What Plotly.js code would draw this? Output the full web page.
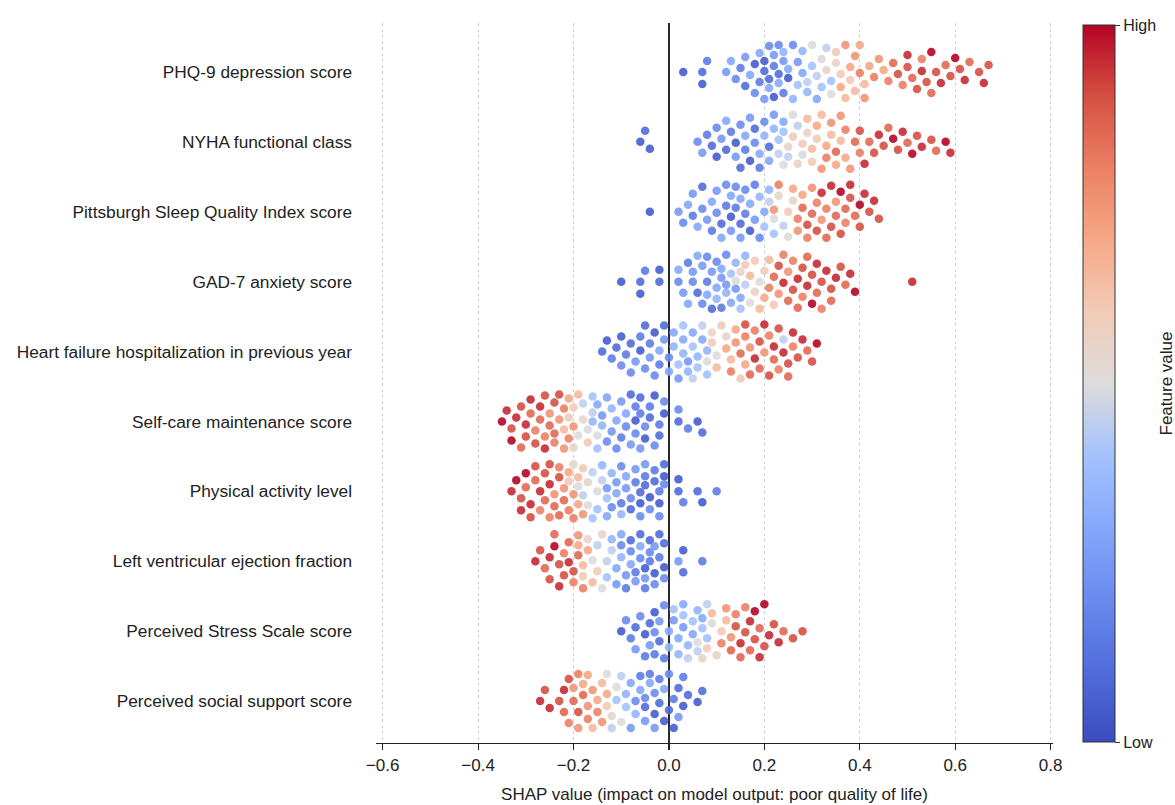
<!DOCTYPE html>
<html>
<head>
<meta charset="utf-8">
<script src="https://cdn.plot.ly/plotly-3.0.1.min.js"></script>
<style>
html,body{margin:0;padding:0;background:#fff;}
#chart{width:1175px;height:805px;}
</style>
</head>
<body>
<div id="chart"></div>
<script>
// Feature names (top to bottom)
const features = [
  "PHQ-9 depression score",
  "NYHA functional class",
  "Pittsburgh Sleep Quality Index score",
  "GAD-7 anxiety score",
  "Heart failure hospitalization in previous year",
  "Self-care maintenance score",
  "Physical activity level",
  "Left ventricular ejection fraction",
  "Perceived Stress Scale score",
  "Perceived social support score"
];

// SHAP values and normalized feature values (0 = low, 1 = high)
const shapPHQ9 = [
  0.03,0.07,0.07,0.08,
  0.12,0.13,0.14,0.15,0.16,0.16,0.17,0.18,0.18,0.19,0.19,0.20,0.20,0.20,0.21,0.21,0.21,0.22,0.22,0.22,0.23,0.23,0.23,0.24,0.24,0.24,0.25,0.25,0.26,0.26,0.27,0.27,0.28,0.28,
  0.29,0.29,0.30,0.30,0.31,0.31,0.32,0.32,0.33,0.33,0.34,0.34,0.35,0.35,
  0.36,0.36,0.37,0.37,0.38,0.38,0.39,0.39,0.40,0.40,0.41,0.41,0.42,0.43,0.44,0.45,0.46,
  0.47,0.48,0.49,0.50,0.50,0.51,0.52,0.53,0.53,0.54,0.55,0.55,0.56,0.57,0.58,0.59,0.60,0.61,0.62,0.63,0.65,0.66,0.67
];
const valPHQ9 = [
  0.05,0.10,0.05,0.15,
  0.25,0.30,0.20,0.15,0.10,0.25,0.30,0.05,0.20,0.15,0.30,0.10,0.25,0.05,0.20,0.30,0.10,0.15,0.25,0.05,0.30,0.20,0.10,0.25,0.15,0.35,0.05,0.30,0.20,0.35,0.25,0.40,0.30,0.35,
  0.35,0.45,0.40,0.50,0.30,0.45,0.50,0.40,0.45,0.55,0.50,0.40,0.55,0.60,
  0.60,0.70,0.65,0.75,0.70,0.60,0.75,0.65,0.70,0.80,0.65,0.75,0.70,0.80,0.75,0.70,0.80,
  0.85,0.90,0.80,0.90,0.95,0.85,0.90,0.95,0.80,0.90,1.00,0.85,0.90,0.95,0.85,0.90,1.00,0.90,0.95,0.85,0.90,0.95,0.90
];

const shapNYHA = [
  -0.06,-0.05,-0.04,
  0.06,0.07,0.08,0.09,0.10,0.10,0.11,0.12,0.12,0.13,0.14,0.14,0.15,0.15,0.16,0.16,0.17,0.17,0.18,0.18,0.19,0.19,0.20,0.20,0.21,0.21,0.22,0.22,0.23,0.24,
  0.23,0.24,0.24,0.25,0.25,0.26,0.26,0.27,0.27,0.28,0.28,0.29,0.29,0.30,
  0.30,0.31,0.31,0.32,0.32,0.33,0.33,0.34,0.34,0.35,0.35,0.36,0.36,0.37,0.37,0.38,0.39,0.40,
  0.40,0.41,0.42,0.43,0.44,0.45,0.46,0.47,0.48,0.49,0.50,0.51,0.52,0.53,0.55,0.56,0.58,0.59
];
const valNYHA = [
  0.05,0.10,0.05,
  0.20,0.25,0.15,0.10,0.20,0.05,0.25,0.10,0.30,0.15,0.05,0.25,0.20,0.10,0.30,0.15,0.05,0.25,0.20,0.10,0.30,0.15,0.35,0.20,0.10,0.30,0.35,0.25,0.40,0.30,
  0.45,0.50,0.40,0.55,0.45,0.50,0.60,0.45,0.55,0.60,0.50,0.55,0.65,0.60,
  0.65,0.70,0.60,0.75,0.65,0.70,0.80,0.65,0.75,0.70,0.85,0.75,0.65,0.80,0.70,0.75,0.85,0.80,
  0.90,0.95,0.85,0.90,0.95,0.90,0.85,1.00,0.90,0.95,0.85,1.00,0.90,0.95,0.90,0.85,1.00,0.95
];

const shapPSQI = [
  -0.04,
  0.02,0.03,0.04,0.05,0.05,0.06,0.07,0.07,0.08,0.09,0.09,0.10,0.10,0.11,0.11,0.12,0.12,0.13,0.13,0.13,0.14,0.14,0.15,0.15,0.15,0.16,0.16,0.17,0.17,0.18,0.18,0.19,0.19,0.20,0.20,0.21,
  0.21,0.22,0.22,0.23,0.24,0.25,0.25,0.26,
  0.22,0.23,0.26,0.27,0.27,0.28,0.28,0.29,0.29,0.30,0.30,0.31,0.31,0.32,0.32,0.33,0.33,0.34,0.34,0.35,0.35,0.36,0.36,0.37,0.37,0.38,0.38,0.39,0.40,0.40,0.41,0.42,0.43,0.44
];
const valPSQI = [
  0.05,
  0.25,0.20,0.30,0.15,0.25,0.30,0.20,0.10,0.25,0.30,0.15,0.20,0.25,0.10,0.30,0.15,0.20,0.05,0.25,0.30,0.15,0.20,0.10,0.25,0.30,0.15,0.20,0.05,0.30,0.25,0.15,0.35,0.20,0.30,0.40,0.35,
  0.45,0.50,0.40,0.55,0.45,0.60,0.50,0.55,
  0.75,0.80,0.70,0.80,0.75,0.85,0.70,0.80,0.90,0.75,0.85,0.80,0.90,0.75,0.95,0.85,0.80,0.90,0.95,0.85,0.75,0.90,1.00,0.85,0.80,0.95,0.90,0.85,1.00,0.90,0.95,0.90,0.95,0.90
];

const shapGAD7 = [
  -0.10,-0.06,-0.06,-0.05,-0.02,-0.02,
  0.02,0.02,0.03,0.04,0.04,0.05,0.05,0.06,0.06,0.07,0.07,0.08,0.08,0.08,0.09,0.09,0.10,0.10,0.10,0.11,0.11,0.11,0.12,0.12,0.12,0.13,0.13,0.14,0.14,0.15,0.15,0.16,
  0.14,0.15,0.16,0.16,0.17,0.17,0.18,0.18,0.19,0.19,0.20,0.20,0.21,0.22,
  0.21,0.22,0.23,0.23,0.24,0.24,0.25,0.25,0.26,0.26,0.27,0.27,0.28,0.28,0.29,0.29,0.30,0.30,0.31,0.31,0.32,0.32,0.33,0.34,0.34,0.35,0.36,0.37,0.38,0.39,
  0.51
];
const valGAD7 = [
  0.05,0.10,0.05,0.15,0.10,0.05,
  0.20,0.30,0.25,0.15,0.30,0.20,0.25,0.10,0.30,0.20,0.25,0.15,0.30,0.20,0.25,0.10,0.30,0.20,0.35,0.25,0.15,0.30,0.20,0.35,0.25,0.30,0.40,0.35,0.25,0.40,0.30,0.35,
  0.50,0.55,0.45,0.60,0.50,0.65,0.55,0.60,0.65,0.50,0.60,0.70,0.65,0.60,
  0.80,0.85,0.75,0.90,0.80,0.95,0.85,0.75,0.90,0.80,0.95,0.85,0.90,0.80,0.95,0.85,0.90,1.00,0.85,0.95,0.90,0.80,0.95,0.90,0.85,0.95,0.90,0.85,0.95,1.00,
  0.95
];

const shapHFHosp = [
  -0.14,-0.13,-0.12,-0.11,-0.10,-0.10,-0.09,-0.08,-0.08,-0.07,-0.06,-0.06,-0.05,-0.05,-0.04,-0.04,-0.03,-0.03,-0.02,-0.02,-0.01,-0.01,0.00,0.00,
  0.01,0.01,0.02,0.02,0.03,0.03,0.03,0.04,0.04,0.05,0.05,0.05,0.06,0.06,0.07,0.07,0.08,0.08,
  0.08,0.09,0.09,0.10,0.10,0.11,0.12,0.12,0.13,0.14,0.15,0.16,
  0.13,0.14,0.15,0.16,0.16,0.17,0.17,0.18,0.18,0.19,0.19,0.20,0.20,0.21,0.21,0.22,0.22,0.23,0.23,0.24,0.24,0.25,0.25,0.26,0.26,0.27,0.28,0.29,0.30,0.31
];
const valHFHosp = [
  0.10,0.05,0.15,0.10,0.20,0.05,0.15,0.10,0.20,0.25,0.05,0.15,0.20,0.10,0.25,0.15,0.05,0.20,0.30,0.15,0.25,0.10,0.20,0.30,
  0.35,0.30,0.40,0.25,0.35,0.30,0.40,0.35,0.25,0.40,0.30,0.45,0.35,0.40,0.30,0.45,0.40,0.35,
  0.50,0.55,0.60,0.65,0.50,0.60,0.70,0.55,0.65,0.70,0.60,0.70,
  0.80,0.75,0.85,0.80,0.90,0.75,0.85,0.95,0.80,0.90,0.85,0.75,0.95,0.90,0.80,0.85,0.95,0.90,0.80,0.45,0.95,0.85,0.90,0.95,0.80,0.90,0.95,0.85,0.90,1.00
];

const shapSelfCare = [
  -0.35,-0.34,-0.33,-0.33,-0.32,-0.31,-0.31,-0.30,-0.30,-0.29,-0.29,-0.28,-0.28,-0.27,-0.27,-0.26,-0.26,-0.26,-0.25,-0.25,-0.24,-0.24,-0.24,-0.23,-0.23,-0.22,-0.22,-0.21,-0.21,-0.20,
  -0.22,-0.21,-0.20,-0.20,-0.19,-0.19,-0.18,-0.18,-0.17,-0.17,-0.16,-0.16,-0.15,-0.15,
  -0.16,-0.15,-0.14,-0.14,-0.13,-0.13,-0.12,-0.12,-0.11,-0.11,-0.10,-0.10,-0.09,-0.09,-0.08,-0.08,-0.07,-0.07,-0.07,-0.06,-0.06,-0.06,-0.05,-0.05,-0.04,-0.04,-0.03,-0.03,-0.02,-0.02,-0.01,-0.01,
  0.02,0.02,0.04,0.06,0.07
];
const valSelfCare = [
  1.00,0.95,0.90,1.00,0.95,0.90,0.85,0.95,0.90,0.85,0.95,0.90,0.80,0.95,0.85,0.90,0.80,0.95,0.85,0.75,0.90,0.80,0.85,0.75,0.90,0.80,0.75,0.70,0.80,0.75,
  0.65,0.60,0.60,0.55,0.65,0.50,0.55,0.45,0.60,0.50,0.45,0.40,0.50,0.40,
  0.35,0.30,0.35,0.25,0.30,0.20,0.35,0.25,0.30,0.20,0.25,0.15,0.30,0.20,0.25,0.10,0.20,0.15,0.05,0.25,0.10,0.15,0.20,0.05,0.15,0.10,0.20,0.05,0.15,0.10,0.05,0.20,
  0.10,0.20,0.15,0.05,0.10
];

const shapActivity = [
  -0.33,-0.32,-0.31,-0.31,-0.30,-0.30,-0.29,-0.29,-0.28,-0.28,-0.27,-0.27,-0.26,-0.26,-0.25,-0.25,-0.25,-0.24,-0.24,-0.23,-0.23,-0.23,-0.22,-0.22,-0.21,-0.21,-0.20,-0.20,-0.19,-0.18,
  -0.21,-0.20,-0.19,-0.19,-0.18,-0.18,-0.17,-0.17,-0.16,-0.16,-0.15,-0.15,-0.14,-0.13,
  -0.14,-0.13,-0.13,-0.12,-0.12,-0.11,-0.11,-0.10,-0.10,-0.10,-0.09,-0.09,-0.08,-0.08,-0.07,-0.07,-0.06,-0.06,-0.06,-0.05,-0.05,-0.05,-0.04,-0.04,-0.03,-0.03,-0.02,-0.02,-0.02,-0.01,-0.01,-0.01,
  0.02,0.02,0.03,0.06,0.07,0.10
];
const valActivity = [
  0.95,1.00,0.90,0.95,0.85,1.00,0.90,0.95,0.85,0.90,0.95,0.80,0.90,0.85,0.95,0.80,0.90,0.85,0.75,0.90,0.80,0.85,0.75,0.85,0.80,0.70,0.75,0.80,0.70,0.75,
  0.60,0.55,0.65,0.50,0.60,0.45,0.55,0.50,0.45,0.40,0.50,0.40,0.45,0.40,
  0.35,0.30,0.25,0.35,0.20,0.30,0.25,0.35,0.20,0.15,0.30,0.25,0.20,0.10,0.25,0.15,0.20,0.10,0.05,0.15,0.25,0.10,0.20,0.05,0.15,0.10,0.20,0.05,0.15,0.10,0.05,0.20,
  0.10,0.05,0.15,0.10,0.05,0.15
];

const shapLVEF = [
  -0.28,-0.27,-0.26,-0.25,-0.25,-0.24,-0.24,-0.23,-0.23,-0.22,-0.22,-0.21,-0.21,-0.20,-0.20,-0.19,-0.19,-0.18,
  -0.19,-0.18,-0.18,-0.17,-0.17,-0.16,-0.16,-0.15,-0.15,-0.14,-0.14,-0.13,-0.13,-0.12,
  -0.12,-0.11,-0.11,-0.10,-0.10,-0.10,-0.09,-0.09,-0.08,-0.08,-0.08,-0.07,-0.07,-0.06,-0.06,-0.06,-0.05,-0.05,-0.05,-0.04,-0.04,-0.04,-0.03,-0.03,-0.03,-0.02,-0.02,-0.01,-0.01,-0.01,
  0.02,0.03,0.03,0.07
];
const valLVEF = [
  0.95,0.90,0.85,0.95,0.90,1.00,0.85,0.90,0.95,0.80,0.90,0.85,0.95,0.80,0.90,0.85,0.75,0.80,
  0.70,0.65,0.60,0.70,0.55,0.65,0.50,0.60,0.45,0.55,0.50,0.45,0.40,0.45,
  0.35,0.30,0.25,0.35,0.20,0.30,0.25,0.15,0.30,0.20,0.10,0.25,0.15,0.20,0.10,0.30,0.15,0.05,0.25,0.20,0.10,0.15,0.05,0.20,0.25,0.10,0.15,0.05,0.20,0.10,
  0.25,0.05,0.10,0.15
];

const shapPSS = [
  -0.10,-0.09,-0.08,-0.07,-0.07,-0.06,-0.05,-0.05,-0.04,-0.04,-0.03,-0.03,-0.03,-0.02,-0.02,-0.01,-0.01,0.00,
  0.00,0.01,0.01,0.02,0.02,0.03,0.03,0.03,0.04,0.04,0.05,0.05,0.06,0.06,0.07,0.07,0.08,0.08,
  0.06,0.07,0.08,0.09,0.09,0.10,0.11,0.12,
  0.11,0.12,0.13,0.13,0.14,0.14,0.15,0.15,0.16,0.16,0.17,0.17,0.18,0.18,0.19,0.19,0.20,0.20,0.21,0.22,0.23,0.24,0.26,0.28
];
const valPSS = [
  0.05,0.20,0.15,0.10,0.25,0.20,0.05,0.15,0.10,0.25,0.05,0.20,0.15,0.10,0.25,0.20,0.15,0.30,
  0.35,0.25,0.40,0.30,0.35,0.25,0.40,0.30,0.35,0.45,0.30,0.40,0.35,0.45,0.40,0.30,0.45,0.40,
  0.50,0.55,0.60,0.50,0.65,0.55,0.60,0.65,
  0.80,0.75,0.85,0.75,0.90,0.80,0.85,0.95,0.80,0.90,0.95,0.85,0.90,1.00,0.85,0.95,0.90,1.00,0.95,0.90,0.95,0.85,0.90,0.90
];

const shapSocial = [
  -0.27,-0.26,-0.25,-0.23,-0.22,-0.22,-0.21,-0.21,-0.20,-0.20,-0.19,-0.19,-0.19,-0.18,-0.18,-0.17,-0.17,-0.17,-0.16,-0.16,-0.15,-0.15,-0.14,-0.14,-0.13,-0.13,
  -0.13,-0.12,-0.12,-0.11,-0.11,-0.10,-0.10,-0.09,
  -0.09,-0.08,-0.08,-0.07,-0.07,-0.06,-0.06,-0.05,-0.05,-0.05,-0.04,-0.04,-0.03,-0.03,-0.03,-0.02,-0.02,-0.01,-0.01,0.00,0.00,0.01,0.01,0.02,0.02,0.03,0.03,0.04,0.06,0.07
];
const valSocial = [
  0.95,0.90,0.95,0.90,0.85,0.95,0.80,0.90,0.85,0.75,0.90,0.80,0.75,0.85,0.70,0.80,0.75,0.70,0.75,0.65,0.80,0.70,0.65,0.75,0.60,0.70,
  0.50,0.45,0.55,0.50,0.40,0.45,0.50,0.40,
  0.35,0.30,0.25,0.35,0.20,0.30,0.15,0.25,0.10,0.20,0.30,0.15,0.05,0.25,0.20,0.10,0.15,0.05,0.30,0.10,0.20,0.15,0.05,0.10,0.25,0.05,0.15,0.10,0.05,0.10
];

const shapSeries = [shapPHQ9, shapNYHA, shapPSQI, shapGAD7, shapHFHosp, shapSelfCare, shapActivity, shapLVEF, shapPSS, shapSocial];
const valueSeries = [valPHQ9, valNYHA, valPSQI, valGAD7, valHFHosp, valSelfCare, valActivity, valLVEF, valPSS, valSocial];

const xTicks = [-0.6, -0.4, -0.2, 0.0, 0.2, 0.4, 0.6, 0.8];

// --- layout geometry ---
const W = 1175, H = 805;
const M = {l: 376, r: 122, t: 23, b: 62};
const xRange = [-0.614, 0.805];
const yRange = [9.6, -0.70];
const plotW = W - M.l - M.r, plotH = H - M.t - M.b;
const pxPerX = plotW / (xRange[1] - xRange[0]);
const pxPerY = plotH / Math.abs(yRange[1] - yRange[0]);

// Deterministic beeswarm: place points (sorted by SHAP) at the smallest
// vertical offset that does not collide with points already placed.
function swarmOffsets(xs) {
  const n = xs.length;
  const order = xs.map((v, i) => i).sort((a, b) => xs[a] - xs[b] || a - b);
  const d = 11.5, maxOff = 27;
  const placed = [];
  const off = new Array(n).fill(0);
  let flip = 1;
  for (const i of order) {
    const xp = xs[i] * pxPerX;
    const near = placed.filter(p => Math.abs(p[0] - xp) < d);
    let best = 0, bestScore = -1;
    let found = false;
    for (let k = 0; k <= maxOff && !found; k += 1) {
      const cands = k === 0 ? [0] : [k * flip, -k * flip];
      for (const y of cands) {
        let minD = Infinity;
        for (const p of near) {
          const dd = Math.hypot(p[0] - xp, p[1] - y);
          if (dd < minD) minD = dd;
        }
        if (minD >= d) { best = y; found = true; break; }
        if (minD > bestScore) { bestScore = minD; best = y; }
      }
    }
    placed.push([xp, best]);
    off[i] = best / pxPerY;
    flip = -flip;
  }
  return off;
}

const X = [], Y = [], C = [];
shapSeries.forEach((xs, r) => {
  const offs = swarmOffsets(xs);
  xs.forEach((v, i) => {
    X.push(v);
    Y.push(r + offs[i]);
    C.push(valueSeries[r][i]);
  });
});

const coolwarm = [
  [0.0, '#3b4cc0'], [0.1, '#516ddb'], [0.2, '#6a8bef'], [0.3, '#85a8fc'],
  [0.4, '#a4c2fe'], [0.5, '#dddcdc'], [0.6, '#f2cbb7'], [0.7, '#f6a886'],
  [0.8, '#ec8165'], [0.9, '#d55042'], [1.0, '#b40426']
];

const fontFam = 'Liberation Sans, Arial, sans-serif';

const trace = {
  type: 'scatter',
  mode: 'markers',
  x: X, y: Y,
  hoverinfo: 'skip',
  marker: {
    size: 8.5,
    color: C,
    cmin: 0, cmax: 1,
    colorscale: coolwarm,
    opacity: 0.9,
    line: {width: 0},
    showscale: true,
    colorbar: {
      x: (1083 - M.l) / plotW, xanchor: 'left', xref: 'paper',
      y: (H - M.b - 383.5) / plotH, yanchor: 'middle',
      thickness: 32, thicknessmode: 'pixels',
      len: 717, lenmode: 'pixels',
      xpad: 0, ypad: 0,
      outlinewidth: 1, outlinecolor: '#333',
      tickmode: 'array', tickvals: [0, 1], ticktext: ['Low', 'High'],
      ticks: 'outside', ticklen: 5, tickcolor: '#333',
      tickfont: {family: fontFam, size: 16, color: '#222'}
    }
  }
};

const layout = {
  width: W, height: H,
  margin: M,
  paper_bgcolor: '#fff', plot_bgcolor: '#fff',
  showlegend: false,
  font: {family: fontFam, size: 17, color: '#222'},
  xaxis: {
    range: xRange,
    tickmode: 'array', tickvals: xTicks, tickformat: '.1f',
    showgrid: true, gridcolor: '#cfcfcf', griddash: 'dot', gridwidth: 1,
    zeroline: true, zerolinecolor: '#2a2a2a', zerolinewidth: 1.6,
    showline: true, linecolor: '#222', linewidth: 1.4,
    ticks: 'outside', ticklen: 6, tickcolor: '#222', tickwidth: 1.2,
    tickfont: {size: 17},
    title: {text: 'SHAP value (impact on model output: poor quality of life)',
            font: {size: 17}, standoff: 14},
    fixedrange: true
  },
  yaxis: {
    range: yRange,
    tickmode: 'array', tickvals: features.map((f, i) => i), ticktext: features,
    showgrid: false, zeroline: false, showline: false, ticks: '',
    ticklabelstandoff: 23,
    tickfont: {size: 17.3},
    fixedrange: true
  },
  annotations: [{
    text: 'Feature value', textangle: -90,
    xref: 'paper', yref: 'paper',
    x: (1166 - M.l) / plotW, y: (H - M.b - 383.5) / plotH,
    xanchor: 'center', yanchor: 'middle', showarrow: false,
    font: {family: fontFam, size: 17, color: '#222'}
  }]
};

Plotly.newPlot('chart', [trace], layout, {displayModeBar: false, staticPlot: true});
</script>
</body>
</html>
